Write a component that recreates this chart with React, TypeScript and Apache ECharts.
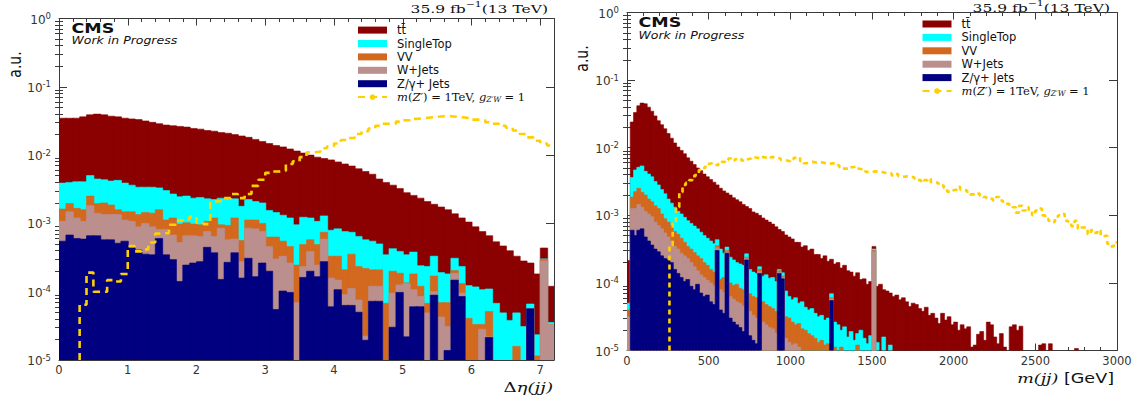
import { useEffect, useRef } from "react";
import * as echarts from "echarts";

// ---------------- binning ----------------
const ETA_LO = 0;
const ETA_HI = 7.2;
const ETA_BIN = 0.1;
const MJJ_LO = 0;
const MJJ_HI = 3000;
const MJJ_BIN = 20;

const Y_MIN = 1e-5;
const Y_MAX = 1;

// tick labels / tick positions
const DECADE_TICKS = [1e-5, 1e-4, 1e-3, 1e-2, 1e-1, 1];
const ETA_TICKS = [0, 1, 2, 3, 4, 5, 6, 7];
const MJJ_TICKS = [0, 500, 1000, 1500, 2000, 2500, 3000];
const LOG_MINOR_TICKS: number[] = [];
for (let e = -5; e < 0; e++) for (let k = 2; k <= 9; k++) LOG_MINOR_TICKS.push(k * Math.pow(10, e));
const ETA_MINOR_TICKS = Array.from({ length: 37 }, (_, i) => i * 0.2).filter((_, i) => i % 5 !== 0);
const MJJ_MINOR_TICKS = Array.from({ length: 31 }, (_, i) => i * 100).filter((_, i) => i % 5 !== 0);

// ---------------- names / colours ----------------
const NAME_TT = "tt\u0304";
const NAME_ST = "SingleTop";
const NAME_VV = "VV";
const NAME_W = "W+Jets";
const NAME_Z = "Z/\u03b3+ Jets";
const NAME_SIG = "m(Z\u2032)=1TeV, g(Z\u2032W)=1";

const COL_TT = "#8b0000";
const COL_ST = "#00ffff";
const COL_VV = "#d2691e";
const COL_W = "#bc8f8f";
const COL_Z = "#000080";
const COL_SIG = "#ffd000";

type Log = number | null;

// ---------------- Δη(jj) panel: log10 of stacked heights, bins of 0.1 ----------------
const ETA_TT_LOG: Log[] = [
  -1.46, -1.46, -1.46, -1.44, -1.41, -1.40, -1.41, -1.43, -1.44, -1.46,
  -1.47, -1.48, -1.50, -1.52, -1.54, -1.56, -1.57, -1.58, -1.59, -1.61,
  -1.62, -1.64, -1.65, -1.67, -1.68, -1.70, -1.72, -1.74, -1.77, -1.80,
  -1.83, -1.86, -1.88, -1.91, -1.94, -1.97, -2.00, -2.03, -2.05, -2.07,
  -2.10, -2.13, -2.16, -2.20, -2.24, -2.28, -2.35, -2.40, -2.44, -2.49,
  -2.55, -2.59, -2.63, -2.68, -2.72, -2.76, -2.80, -2.86, -2.92, -2.98,
  -3.05, -3.12, -3.18, -3.27, -3.33, -3.40, -3.48, -3.55, -3.58, -3.74,
  -3.36, -3.92,
];
const ETA_ST_LOG: Log[] = [
  -2.41, -2.40, -2.39, -2.39, -2.30, -2.35, -2.36, -2.38, -2.37, -2.41,
  -2.44, -2.47, -2.47, -2.47, -2.48, -2.52, -2.57, -2.61, -2.60, -2.63,
  -2.62, -2.64, -2.65, -2.63, -2.64, -2.64, -2.75, -2.65, -2.68, -2.70,
  -2.81, -2.84, -2.88, -2.92, -3.02, -2.91, -2.92, -2.97, -2.89, -3.10,
  -3.08, -3.12, -3.13, -3.19, -3.24, -3.26, -3.30, -3.46, -3.37, -3.41,
  -3.46, -3.42, -3.62, -3.63, -3.48, -3.72, -3.74, -3.51, -3.63, -3.91,
  -3.93, -3.97, -3.96, -4.17, -4.31, -4.42, -4.31, -4.51, -4.18, -4.63,
  -3.52, -4.45,
];
const ETA_VV_LOG: Log[] = [
  -2.79, -2.71, -2.78, -2.80, -2.60, -2.71, -2.70, -2.73, -2.80, -2.83,
  -2.83, -2.87, -2.84, -2.85, -2.80, -2.95, -2.92, -3.01, -2.99, -3.01,
  -3.02, -2.97, -2.92, -3.02, -3.03, -2.92, -3.25, -2.95, -2.95, -3.00,
  -3.20, -3.20, -3.26, -3.34, -3.61, -3.31, -3.24, -3.31, -3.13, -3.48,
  -3.48, -3.68, -3.45, -3.63, -3.66, -3.68, -3.68, -4.17, -3.70, -3.73,
  -3.87, -3.74, -3.92, -4.17, -3.77, -4.16, -4.16, -3.69, -3.88, -4.39,
  -4.48, -4.48, -4.29, null, null, null, -4.80, null, -4.25, -4.94,
  -3.53, -4.48,
];
const ETA_W_LOG: Log[] = [
  -2.97, -2.83, -2.92, -2.97, -2.74, -2.85, -2.87, -2.87, -2.87, -2.95,
  -2.97, -3.05, -3.00, -3.05, -3.09, -3.09, -3.17, -3.28, -3.18, -3.18,
  -3.19, -3.12, -3.19, -3.07, -3.24, -3.23, -3.56, -3.07, -3.08, -3.12,
  -3.34, -3.52, -3.48, -3.58, -4.16, -3.63, -3.41, -3.61, -3.23, -3.80,
  -3.83, -4.04, -3.95, -4.12, -4.65, -3.92, -3.92, null, -4.02, -3.90,
  -3.88, -3.97, -4.07, -4.31, -4.00, -4.37, -4.51, -3.73, -4.02, null,
  null, -4.55, -4.66, null, null, null, null, null, -4.25, null,
  -3.55, -4.48,
];
const ETA_Z_LOG: Log[] = [
  -3.26, -3.17, -3.22, -3.23, -3.18, -3.18, -3.24, -3.24, -3.29, -3.26,
  -3.36, -3.39, -3.45, -3.46, -3.22, -3.46, -3.53, -3.85, -3.61, -3.58,
  -3.56, -3.35, -3.43, -3.82, -3.57, -3.43, -3.80, -3.51, -3.78, -3.58,
  -3.70, -4.26, -3.99, -4.01, null, -3.79, -3.70, -3.78, -3.56, -4.22,
  -3.97, -4.20, -4.20, -4.30, -4.71, -4.14, -4.14, null, -4.52, -4.01,
  -4.66, -4.22, -4.22, null, -4.05, null, -4.86, -3.83, -4.07, null,
  null, null, -4.67, null, null, null, null, null, -4.25, null,
  null, null,
];
const ETA_SIG_LOG: Log[] = [
  null, null, null, -4.19, -3.72, -4.00, -4.00, -3.83, -3.85, -3.74,
  -3.33, -3.41, -3.38, -3.28, -3.15, -3.14, -3.02, -2.96, -2.94, -2.90,
  -2.99, -3.01, -2.68, -2.67, -2.63, -2.57, -2.63, -2.57, -2.45, -2.36,
  -2.26, -2.24, -2.23, -2.13, -2.09, -2.03, -1.96, -1.95, -1.90, -1.87,
  -1.83, -1.78, -1.75, -1.69, -1.65, -1.61, -1.57, -1.54, -1.54, -1.51,
  -1.49, -1.47, -1.46, -1.45, -1.44, -1.43, -1.43, -1.44, -1.45, -1.46,
  -1.48, -1.49, -1.52, -1.54, -1.57, -1.60, -1.64, -1.69, -1.74, -1.79,
  -1.83, -1.86,
];

// ---------------- m(jj) panel: log10 of stacked heights, bins of 20 GeV ----------------
const MJJ_TT_LOG: Log[] = [
  -3.67, -1.62, -1.48, -1.38, -1.34, -1.35, -1.40, -1.46, -1.53, -1.60,
  -1.66, -1.72, -1.79, -1.86, -1.93, -1.99, -2.04, -2.09, -2.15, -2.20,
  -2.25, -2.30, -2.34, -2.39, -2.43, -2.47, -2.51, -2.55, -2.60, -2.64,
  -2.67, -2.70, -2.74, -2.77, -2.80, -2.84, -2.87, -2.90, -2.95, -2.97,
  -3.00, -3.04, -3.07, -3.10, -3.13, -3.17, -3.21, -3.24, -3.29, -3.32,
  -3.35, -3.40, -3.40, -3.47, -3.45, -3.52, -3.50, -3.58, -3.58, -3.64,
  -3.60, -3.68, -3.65, -3.72, -3.70, -3.78, -3.74, -3.82, -3.84, -3.90,
  -3.85, -3.95, -3.94, -4.02, -3.98, -3.46, -4.05, -4.02, -4.10, -4.12,
  -4.15, -4.20, -4.18, -4.25, -4.22, -4.28, -4.35, -4.30, -4.32, -4.38,
  -4.42, -4.36, -4.48, -4.45, -4.52, -4.60, -4.45, -4.55, -4.50, -4.62,
  -4.58, -4.70, -4.62, -4.68, -4.65, -4.95, -4.92, -4.76, -4.72, -4.85,
  -4.58, -4.62, -4.80, -4.90, -4.75, -4.95, null, -4.65, -4.62, -4.70,
  -4.64, null, null, null, null, null, -4.92, -4.90, null, -4.90,
  null, null, null, null, null, null, null, -4.97, null, null,
  null, null, null, null, null, null, null, null, null, null,
];
const MJJ_ST_LOG: Log[] = [
  -4.30, -2.44, -2.33, -2.29, -2.27, -2.35, -2.39, -2.43, -2.50, -2.55,
  -2.62, -2.68, -2.76, -2.82, -2.88, -2.94, -2.98, -3.03, -3.08, -3.12,
  -3.16, -3.20, -3.25, -3.30, -3.34, -3.38, -3.42, -3.36, -3.50, -3.56,
  -3.47, -3.62, -3.66, -3.70, -3.72, -3.74, -3.57, -3.80, -3.84, -3.86,
  -3.76, -3.90, -3.88, -3.93, -3.92, -3.98, -3.80, -3.85, -4.12, -4.20,
  -4.25, -4.22, -4.30, -4.28, -4.36, -4.40, -4.38, -4.45, -4.50, -4.48,
  -4.55, -4.52, -4.16, -4.58, -4.62, -4.70, -4.65, -4.80, -4.72, -4.85,
  -4.75, -4.70, -4.82, -4.90, -4.78, -3.50, -4.88, null, -4.80, null,
  -4.92, null, null, null, null, null, null, null, null, null,
  null, null, null, null, null, null, null, null, null, null,
  null, null, null, null, null, null, null, null, null, null,
  null, null, null, null, null, null, null, null, null, null,
  null, null, null, null, null, null, null, null, null, null,
  null, null, null, null, null, null, null, null, null, null,
  null, null, null, null, null, null, null, null, null, null,
];
const MJJ_VV_LOG: Log[] = [
  -4.40, -2.73, -2.65, -2.60, -2.66, -2.70, -2.76, -2.80, -2.86, -2.90,
  -2.98, -3.05, -3.10, -3.15, -3.24, -3.28, -3.34, -3.40, -3.46, -3.50,
  -3.55, -3.60, -3.64, -3.70, -3.74, -3.80, -3.84, -3.45, -3.95, -3.92,
  -3.52, -4.00, -4.04, -4.02, -4.08, -4.10, -3.62, -4.16, -4.20, -4.22,
  -3.80, -4.28, -4.32, -4.35, -4.38, -4.42, -3.82, -3.90, -4.50, -4.52,
  -4.58, -4.62, -4.60, -4.68, -4.70, -4.75, -4.78, -4.82, -4.88, -4.85,
  -4.92, -4.90, -4.22, -4.95, null, -4.95, null, null, null, null,
  -4.92, null, null, null, null, -3.52, null, null, null, null,
  null, null, null, null, null, null, null, null, null, null,
  null, null, null, null, null, null, null, null, null, null,
  null, null, null, null, null, null, null, null, null, null,
  null, null, null, null, null, null, null, null, null, null,
  null, null, null, null, null, null, null, null, null, null,
  null, null, null, null, null, null, null, null, null, null,
  null, null, null, null, null, null, null, null, null, null,
];
const MJJ_W_LOG: Log[] = [
  -4.50, -2.90, -2.90, -2.84, -2.88, -2.94, -2.98, -3.02, -3.10, -3.15,
  -3.20, -3.26, -3.32, -3.38, -3.46, -3.50, -3.56, -3.60, -3.64, -3.70,
  -3.76, -3.82, -3.88, -3.92, -3.96, -4.00, -4.04, -3.48, -4.10, -4.14,
  -3.54, -4.20, -4.24, -4.28, -4.30, -4.34, -3.64, -4.42, -4.48, -4.52,
  -3.83, -4.58, -4.62, -4.66, -4.68, -4.74, -3.84, -3.92, -4.82, -4.88,
  -4.92, -4.90, -4.95, null, null, null, null, null, null, null,
  null, null, -4.24, null, null, null, null, null, null, null,
  null, null, null, null, null, -3.54, null, null, null, null,
  null, null, null, null, null, null, null, null, null, null,
  null, null, null, null, null, null, null, null, null, null,
  null, null, null, null, null, null, null, null, null, null,
  null, null, null, null, null, null, null, null, null, null,
  null, null, null, null, null, null, null, null, null, null,
  null, null, null, null, null, null, null, null, null, null,
  null, null, null, null, null, null, null, null, null, null,
];
const MJJ_Z_LOG: Log[] = [
  null, -3.22, -3.30, -3.22, -3.20, -3.32, -3.38, -3.44, -3.50, -3.54,
  -3.60, -3.64, -3.66, -3.70, -3.80, -3.86, -3.92, -3.98, -3.95, -4.05,
  -4.10, -4.02, -4.15, -4.20, -4.18, -4.28, -4.32, -3.52, -4.40, -4.45,
  -3.56, -4.52, -4.58, -4.62, -4.66, -4.72, -3.66, -4.78, -4.85, -4.90,
  -3.86, null, null, null, null, null, -3.86, -3.94, null, null,
  null, null, null, null, null, null, null, null, null, null,
  null, null, -4.26, null, null, null, null, null, null, null,
  null, null, null, null, null, null, null, null, null, null,
  null, null, null, null, null, null, null, null, null, null,
  null, null, null, null, null, null, null, null, null, null,
  null, null, null, null, null, null, null, null, null, null,
  null, null, null, null, null, null, null, null, null, null,
  null, null, null, null, null, null, null, null, null, null,
  null, null, null, null, null, null, null, null, null, null,
  null, null, null, null, null, null, null, null, null, null,
];
const MJJ_SIG_LOG: Log[] = [
  null, null, null, null, null, null, null, null, null, null,
  null, null, null, -3.45, -3.12, -2.88, -2.66, -2.55, -2.52, -2.48,
  -2.42, -2.38, -2.33, -2.30, -2.24, -2.23, -2.25, -2.26, -2.24, -2.21,
  -2.18, -2.16, -2.19, -2.17, -2.16, -2.19, -2.17, -2.16, -2.14, -2.15,
  -2.16, -2.14, -2.15, -2.16, -2.14, -2.15, -2.16, -2.18, -2.19, -2.20,
  -2.17, -2.15, -2.14, -2.20, -2.23, -2.22, -2.21, -2.22, -2.21, -2.22,
  -2.23, -2.24, -2.23, -2.24, -2.26, -2.29, -2.31, -2.31, -2.29, -2.28,
  -2.31, -2.32, -2.32, -2.36, -2.36, -2.35, -2.35, -2.36, -2.37, -2.38,
  -2.38, -2.41, -2.39, -2.42, -2.43, -2.42, -2.43, -2.44, -2.46, -2.48,
  -2.51, -2.48, -2.46, -2.51, -2.51, -2.53, -2.56, -2.60, -2.65, -2.63,
  -2.62, -2.58, -2.62, -2.63, -2.65, -2.69, -2.70, -2.68, -2.71, -2.73,
  -2.75, -2.76, -2.78, -2.73, -2.78, -2.80, -2.83, -2.86, -2.88, -2.96,
  -2.86, -2.93, -2.88, -2.92, -3.00, -2.93, -2.90, -3.00, -3.05, -3.08,
  -3.10, -3.02, -3.00, -2.98, -3.08, -3.10, -3.16, -3.08, -3.20, -3.18,
  -3.18, -3.28, -3.22, -3.26, -3.22, -3.31, -3.30, -3.42, -3.46, -3.40,
];

// ---------------- styling constants ----------------
const LINE = "#3a3a3a";
const LABEL = "#333333";
const SANS = "DejaVu Sans";
const SERIF = "DejaVu Serif";

const pow10 = (e: number) => Math.pow(10, e);

function histData(lo: number, w: number, logs: Log[]) {
  const out: number[][] = [];
  logs.forEach((e, i) => {
    if (e !== null) out.push([lo + i * w, lo + (i + 1) * w, pow10(e)]);
  });
  return out;
}

function stepData(lo: number, w: number, logs: Log[]) {
  const first = logs.findIndex((e) => e !== null);
  const pts: number[][] = [[lo + first * w, Y_MIN]];
  let last = Y_MIN;
  for (let i = first; i < logs.length; i++) {
    const e = logs[i];
    last = e === null ? Y_MIN : pow10(e);
    pts.push([lo + i * w, last]);
  }
  pts.push([lo + logs.length * w, last]);
  return pts;
}

function histSeries(name: string, color: string, axis: number, data: number[][]) {
  return {
    type: "custom",
    name,
    xAxisIndex: axis,
    yAxisIndex: axis,
    clip: true,
    silent: true,
    itemStyle: { color },
    encode: { x: [0, 1], y: 2 },
    data,
    renderItem: (_p: any, api: any) => {
      const a = api.coord([api.value(0), api.value(2)]);
      const b = api.coord([api.value(1), Y_MIN]);
      return {
        type: "rect",
        shape: { x: a[0], y: a[1], width: b[0] - a[0] + 0.6, height: b[1] - a[1] },
        style: { fill: color, stroke: color, lineWidth: 0.6 },
      };
    },
  };
}

function signalSeries(axis: number, data: number[][], dash: number[]) {
  return {
    type: "line",
    name: NAME_SIG,
    xAxisIndex: axis,
    yAxisIndex: axis,
    step: "end",
    symbol: "none",
    showSymbol: false,
    clip: true,
    silent: true,
    z: 5,
    data,
    itemStyle: { color: COL_SIG },
    lineStyle: { color: COL_SIG, width: 2.6, type: dash },
  };
}

const tick = (len: number, values: number[]) => ({
  show: true,
  inside: true,
  length: len,
  customValues: values,
  lineStyle: { color: LINE, width: 1 },
});
const axisLine = { show: true, onZero: false, lineStyle: { color: LINE, width: 1 } };

function xAxesFor(grid: number, max: number, major: number[], minor: number[]) {
  const base = { type: "value", gridIndex: grid, min: 0, max, splitLine: { show: false } };
  return [
    {
      ...base,
      position: "bottom",
      axisLine,
      axisTick: tick(7, major),
      axisLabel: {
        show: true,
        customValues: major,
        margin: 4,
        fontSize: 11.5,
        color: LABEL,
        fontFamily: SANS,
        formatter: (v: number) => String(v),
      },
    },
    { ...base, position: "bottom", axisLine: { show: false }, axisTick: tick(3.5, minor), axisLabel: { show: false } },
    { ...base, position: "top", axisLine, axisTick: tick(7, major), axisLabel: { show: false } },
    { ...base, position: "top", axisLine: { show: false }, axisTick: tick(3.5, minor), axisLabel: { show: false } },
  ];
}

function yAxesFor(grid: number) {
  const base = { type: "log", logBase: 10, gridIndex: grid, min: Y_MIN, max: Y_MAX, splitLine: { show: false } };
  return [
    {
      ...base,
      position: "left",
      axisLine,
      axisTick: tick(8, DECADE_TICKS),
      axisLabel: {
        show: true,
        customValues: DECADE_TICKS,
        margin: 8,
        formatter: (v: number) => {
          const e = Math.round(Math.log10(v));
          return `{b|10}{s|${e === 0 ? "0" : "-" + -e}}`;
        },
        rich: {
          b: { fontSize: 12, lineHeight: 14, fontFamily: SANS, color: LABEL, verticalAlign: "bottom" },
          s: { fontSize: 8.5, lineHeight: 9, fontFamily: SANS, color: LABEL, verticalAlign: "top" },
        },
      },
    },
    { ...base, position: "left", axisLine: { show: false }, axisTick: tick(4, LOG_MINOR_TICKS), axisLabel: { show: false } },
    { ...base, position: "right", axisLine, axisTick: tick(8, DECADE_TICKS), axisLabel: { show: false } },
    { ...base, position: "right", axisLine: { show: false }, axisTick: tick(4, LOG_MINOR_TICKS), axisLabel: { show: false } },
  ];
}

const PROCESS_NAMES = [NAME_TT, NAME_ST, NAME_VV, NAME_W, NAME_Z];

function legendFor(left: number, top: number) {
  return {
    left,
    top,
    orient: "vertical",
    padding: 0,
    itemGap: 0,
    itemWidth: 29,
    itemHeight: 7,
    selectedMode: false,
    data: [...PROCESS_NAMES.map((name) => ({ name, icon: "rect" })), { name: NAME_SIG }],
    formatter: (name: string) =>
      name === NAME_SIG ? "{i|m}{r|(}{i|Z\u2032}{r|) = 1TeV, }{i|g}{sub|Z\u2032W}{r| = 1}" : name,
    textStyle: {
      fontFamily: SANS,
      fontSize: 11.5,
      lineHeight: 13.4,
      color: "#111",
      padding: [0, 0, 0, 5],
      rich: {
        i: { fontFamily: SERIF, fontStyle: "italic", fontSize: 11.5, lineHeight: 13.4, color: "#111" },
        r: { fontFamily: SERIF, fontSize: 11.5, lineHeight: 13.4, color: "#111" },
        sub: { fontFamily: SERIF, fontStyle: "italic", fontSize: 7.5, lineHeight: 9, color: "#111", verticalAlign: "bottom" },
      },
    },
  };
}

function txt(
  x: number,
  y: number,
  text: string,
  opts: { align?: string; vAlign?: string; scaleX?: number; scaleY?: number; rotation?: number; rich?: any; font?: any }
) {
  const align = opts.align || "left";
  const vAlign = opts.vAlign || "top";
  return {
    type: "text",
    x,
    y,
    scaleX: opts.scaleX || 1,
    scaleY: opts.scaleY || 1,
    rotation: opts.rotation || 0,
    silent: true,
    style: {
      text,
      fill: "#111",
      align,
      verticalAlign: vAlign,
      textAlign: align,
      textVerticalAlign: vAlign,
      rich: opts.rich,
      ...(opts.font || {}),
    },
  };
}

const LUMI_RICH = {
  a: { fontFamily: SERIF, fontSize: 11.5, lineHeight: 14, fill: "#111", verticalAlign: "bottom" },
  s: { fontFamily: SERIF, fontSize: 8, lineHeight: 8, fill: "#111", verticalAlign: "top" },
};
const LUMI_TEXT = "{a|35.9 fb}{s|\u22121}{a|(13 TeV)}";

function panelTexts(cmsX: number, cmsY: number, auX: number, auY: number, lumiX: number, lumiY: number) {
  return [
    txt(cmsX, cmsY, "CMS", { scaleX: 1.25, font: { fontFamily: SANS, fontWeight: "bold", fontSize: 14 } }),
    txt(cmsX, cmsY + 15, "Work in Progress", {
      scaleX: 1.25,
      font: { fontFamily: SANS, fontStyle: "italic", fontSize: 10 },
    }),
    txt(auX, auY, "a.u.", {
      align: "center",
      vAlign: "middle",
      rotation: Math.PI / 2,
      scaleY: 1.3,
      font: { fontFamily: SANS, fontSize: 14 },
    }),
    txt(lumiX, lumiY, LUMI_TEXT, { align: "right", vAlign: "middle", scaleX: 1.35, rich: LUMI_RICH }),
  ];
}

function buildOption() {
  const etaSeries = [
    histSeries(NAME_TT, COL_TT, 0, histData(ETA_LO, ETA_BIN, ETA_TT_LOG)),
    histSeries(NAME_ST, COL_ST, 0, histData(ETA_LO, ETA_BIN, ETA_ST_LOG)),
    histSeries(NAME_VV, COL_VV, 0, histData(ETA_LO, ETA_BIN, ETA_VV_LOG)),
    histSeries(NAME_W, COL_W, 0, histData(ETA_LO, ETA_BIN, ETA_W_LOG)),
    histSeries(NAME_Z, COL_Z, 0, histData(ETA_LO, ETA_BIN, ETA_Z_LOG)),
    signalSeries(0, stepData(ETA_LO, ETA_BIN, ETA_SIG_LOG), [7, 5]),
  ];
  const mjjSeries = [
    histSeries(NAME_TT, COL_TT, 4, histData(MJJ_LO, MJJ_BIN, MJJ_TT_LOG)),
    histSeries(NAME_ST, COL_ST, 4, histData(MJJ_LO, MJJ_BIN, MJJ_ST_LOG)),
    histSeries(NAME_VV, COL_VV, 4, histData(MJJ_LO, MJJ_BIN, MJJ_VV_LOG)),
    histSeries(NAME_W, COL_W, 4, histData(MJJ_LO, MJJ_BIN, MJJ_W_LOG)),
    histSeries(NAME_Z, COL_Z, 4, histData(MJJ_LO, MJJ_BIN, MJJ_Z_LOG)),
    signalSeries(4, stepData(MJJ_LO, MJJ_BIN, MJJ_SIG_LOG), [5, 4]),
  ];

  return {
    animation: false,
    textStyle: { fontFamily: SANS },
    grid: [
      { left: 59, top: 18.5, width: 495, height: 341.5 },
      { left: 627, top: 12.5, width: 490, height: 338 },
    ],
    xAxis: [
      ...xAxesFor(0, ETA_HI, ETA_TICKS, ETA_MINOR_TICKS),
      ...xAxesFor(1, MJJ_HI, MJJ_TICKS, MJJ_MINOR_TICKS),
    ],
    yAxis: [...yAxesFor(0), ...yAxesFor(1)],
    legend: [legendFor(357, 23.4), legendFor(921.5, 17.3)],
    series: [...etaSeries, ...mjjSeries],
    graphic: [
      ...panelTexts(71.5, 21, 14.5, 64.5, 548, 7.5),
      ...panelTexts(638.5, 15.5, 582, 58.5, 1110, 6.5),
      txt(553, 387.5, "{g|\u0394}{i|\u03b7(jj)}", {
        align: "right",
        vAlign: "middle",
        scaleX: 1.35,
        rich: {
          g: { fontFamily: SERIF, fontSize: 13.5, fill: "#111" },
          i: { fontFamily: SERIF, fontStyle: "italic", fontSize: 13.5, fill: "#111" },
        },
      }),
      txt(1114, 378, "{i|m(jj)}{s| [GeV]}", {
        align: "right",
        vAlign: "middle",
        scaleX: 1.3,
        rich: {
          i: { fontFamily: SERIF, fontStyle: "italic", fontSize: 13.5, fill: "#111" },
          s: { fontFamily: SANS, fontSize: 13.5, fill: "#111" },
        },
      }),
    ],
  };
}

export default function App() {
  const ref = useRef<HTMLDivElement>(null);
  useEffect(() => {
    document.body.style.margin = "0";
    const chart = echarts.init(ref.current as HTMLDivElement, null, { renderer: "svg" });
    chart.setOption(buildOption() as any);
    return () => chart.dispose();
  }, []);
  return <div ref={ref} style={{ width: 1148, height: 404 }} />;
}
